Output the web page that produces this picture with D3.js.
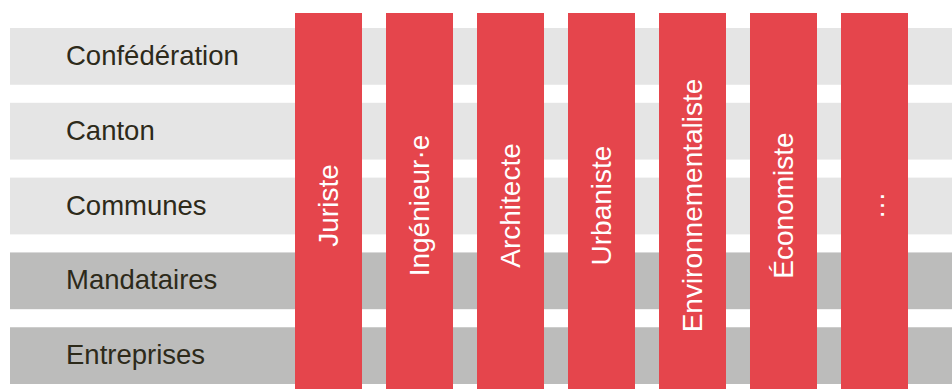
<!DOCTYPE html>
<html><head><meta charset="utf-8">
<script src="https://cdn.jsdelivr.net/npm/d3@7"></script>
<style>html,body{margin:0;padding:0;background:#fff;}svg{display:block;}</style>
</head><body>
<svg id="c" width="952" height="389"></svg>
<script>
const rows = ["Confédération", "Canton", "Communes", "Mandataires", "Entreprises"];
const rowGroup = ["public", "public", "public", "prive", "prive"];
const columns = ["Juriste", "Ingénieur·e", "Architecte", "Urbaniste", "Environnementaliste", "Économiste", "…"];

const W = 952, H = 389;
const svg = d3.select("#c");
const rowColor = d3.scaleOrdinal().domain(["public", "prive"]).range(["#e5e5e5", "#bcbcbb"]);

const y = d3.scaleBand().domain(rows).range([28, 384]).paddingInner(0.2415).paddingOuter(0);
const x = d3.scaleBand().domain(columns).range([295, 908]).paddingInner(0.2637).paddingOuter(0);

const font = "'Liberation Sans', Arial, Helvetica, sans-serif";

svg.append("g").selectAll("rect").data(rows).join("rect")
  .attr("x", 10).attr("width", W - 10)
  .attr("y", d => y(d)).attr("height", y.bandwidth())
  .attr("fill", (d, i) => rowColor(rowGroup[i]));

svg.append("g").selectAll("text").data(rows).join("text")
  .attr("x", 66).attr("y", d => y(d) + y.bandwidth() / 2)
  .attr("dy", "0.31em")
  .attr("font-family", font).attr("font-size", 27.5)
  .attr("fill", "#2d2a1a")
  .text(d => d);

svg.append("g").selectAll("rect").data(columns).join("rect")
  .attr("x", d => x(d)).attr("width", x.bandwidth())
  .attr("y", 13).attr("height", H - 13)
  .attr("fill", "#e5454c");

svg.append("g").selectAll("text").data(columns).join("text")
  .attr("transform", d => `translate(${x(d) + x.bandwidth() / 2},205.5) rotate(-90)`)
  .attr("text-anchor", "middle").attr("dy", "0.33em")
  .attr("font-family", font).attr("font-size", 28)
  .attr("fill", "#ffffff")
  .text(d => d);
</script>
</body></html>
